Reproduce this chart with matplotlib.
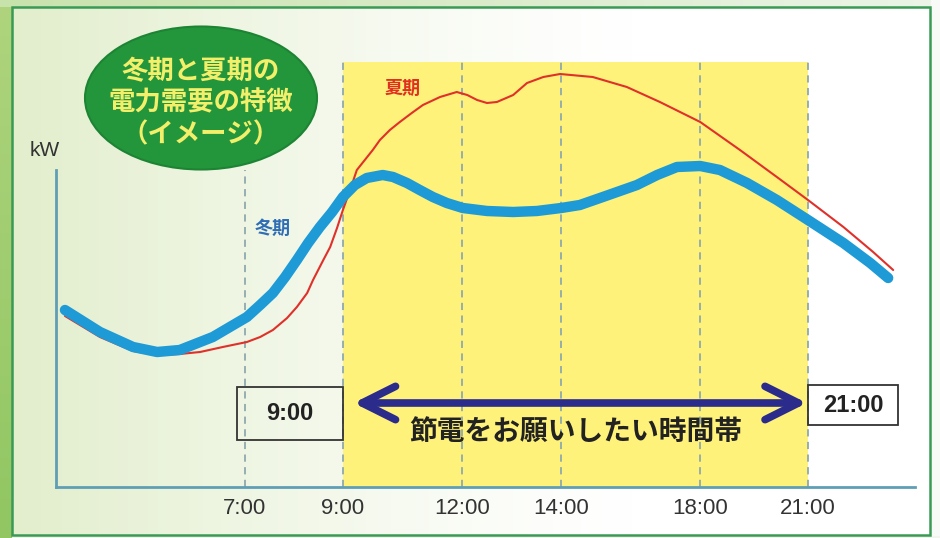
import numpy as np
import matplotlib.pyplot as plt
from matplotlib.patches import Ellipse, Rectangle

plt.rcParams['font.family'] = ['Noto Sans CJK JP', 'DejaVu Sans']

W, H = 940, 538

# time axis of the drawing is not to scale: hours and where they sit along the axis
scale_hours = [3, 7, 9, 12, 14, 18, 21, 24]
scale_frac = [0, 0.220, 0.334, 0.473, 0.588, 0.750, 0.875, 1.0]
tick_hours = [7, 9, 12, 14, 18, 21]
tick_labels = ["7:00", "9:00", "12:00", "14:00", "18:00", "21:00"]

# winter (冬期) demand, arbitrary kW units
winter_h = [3.19, 3.93, 4.63, 5.14, 5.62, 6.32, 6.68, 7.04, 7.31, 7.57, 7.82, 8.06, 8.29,
            8.53, 8.78, 9.0, 9.30, 9.60, 10.0, 10.26, 10.61, 10.93, 11.26, 11.61, 12.01,
            12.50, 13.03, 13.51, 14.0, 14.54, 15.20, 16.18, 16.76, 17.33, 18.0, 18.55,
            19.31, 20.14, 21.01, 22.0, 22.75, 23.25]
winter_kw = [177, 155, 140, 135, 137, 150, 160, 170, 182, 194, 210, 227, 244,
             260, 275, 290, 302, 309, 312, 310, 304, 297, 290, 284, 279,
             276, 275, 276, 279, 282, 290, 302, 312, 320, 321, 317,
             304, 287, 267, 244, 224, 209]

# summer (夏期) demand
summer_h = [3.19, 3.93, 4.63, 5.14, 5.62, 6.05, 6.53, 7.04, 7.31, 7.57, 7.86, 8.06, 8.27,
            8.39, 8.60, 8.74, 8.88, 9.0, 9.18, 9.35, 9.75, 9.93, 10.18, 10.43, 10.73,
            11.01, 11.44, 11.86, 12.10, 12.30, 12.50, 12.70, 13.03, 13.31, 13.64, 13.98,
            14.91, 15.89, 16.84, 18.0, 19.11, 20.14, 21.01, 22.0, 22.83, 23.39]
summer_kw = [171, 150, 136, 132, 133, 135, 140, 145, 150, 157, 169, 180, 194,
             207, 227, 240, 259, 277, 297, 317, 337, 347, 357, 365, 374,
             382, 390, 395, 392, 387, 384, 385, 392, 404, 410, 413,
             410, 400, 385, 365, 337, 310, 287, 260, 235, 217]

save_start, save_end = 9, 21

fig = plt.figure(figsize=(W / 100, H / 100), dpi=100)

# background: green frame and pale panel
bg = fig.add_axes([0, 0, 1, 1])
img = np.ones((H, W, 3))
t = np.clip(1 - (np.arange(W) - 12) / 620, 0, 1) ** 1.3
tint = np.array([226, 238, 204]) / 255
img[:] = 1 - t[None, :, None] * (1 - tint)[None, None, :]
rows = np.linspace(0, 1, H)[:, None]
img[:, :12] = ((1 - rows) * np.array([175, 212, 125]) + rows * np.array([145, 198, 98]))[:, None, :] / 255
cols = np.clip(np.arange(W) / W, 0, 1)[:, None]
img[:7] = ((1 - cols) * np.array([200, 226, 172]) + cols * np.array([236, 245, 232]))[None, :, :] / 255
img[:, 931:] = np.array([248, 250, 248]) / 255
img[536:, 12:] = np.array([240, 246, 236]) / 255
bg.imshow(img, extent=(0, W, H, 0), aspect='auto')
bg.set_xlim(0, W)
bg.set_ylim(H, 0)
bg.axis('off')
bg.add_patch(Rectangle((12, 7), 918, 528, fill=False, ec='#3a9a55', lw=1.8))

# title bubble
bg.add_patch(Ellipse((201, 98), 232, 143, fc='#23963c', ec='#1d8434', lw=1.5))
for txt, y in zip(["冬期と夏期の", "電力需要の特徴", "（イメージ）"], [72, 103, 135]):
    bg.text(201, y, txt, color='#f3ef6a', fontsize=19, fontweight='bold',
            ha='center', va='center')
bg.text(45, 150, "kW", family='Liberation Sans', fontsize=15, color='#333333',
        ha='center', va='center')

# chart
ax = fig.add_axes([56 / W, (H - 487) / H, 859 / W, (487 - 40) / H])
ax.patch.set_alpha(0)
ax.set_xscale('function', functions=(lambda h: np.interp(h, scale_hours, scale_frac),
                                     lambda f: np.interp(f, scale_frac, scale_hours)))
ax.set_xlim(3, 24)
ax.set_ylim(0, 447)

ax.axvspan(save_start, save_end, ymin=0, ymax=425 / 447, color='#fff27a', lw=0, zorder=0.5)
for h in tick_hours:
    top = 317 if h < save_start else 425
    ax.vlines(h, 0, top, color='#8fa9ae', lw=1.3, ls=(0, (4, 3)), zorder=1)

ax.plot(summer_h, summer_kw, color='#e0302a', lw=1.5, zorder=2,
        solid_capstyle='round', solid_joinstyle='round')
ax.plot(winter_h, winter_kw, color='#1e9ad6', lw=7.5, zorder=3,
        solid_capstyle='round', solid_joinstyle='round')

ax.text(7.57, 259, "冬期", color='#2f6db5', fontsize=13, fontweight='bold',
        ha='center', va='center')
ax.text(10.5, 399, "夏期", color='#e03020', fontsize=13, fontweight='bold',
        ha='center', va='center')

ax.annotate('', xy=(20.98, 84), xytext=(9.27, 84),
            arrowprops=dict(arrowstyle='<->,head_length=1.2,head_width=0.6',
                            color='#2b2b8c', lw=5.5, mutation_scale=20,
                            shrinkA=0, shrinkB=0), zorder=4)
ax.text(14.43, 55, "節電をお願いしたい時間帯", fontsize=20, fontweight='bold',
        color='#222222', ha='center', va='center', zorder=4)

# start / end boxes
for (x0, x1, y0, y1), label in zip([(6.83, 9.0, 47, 100), (21.0, 23.53, 62, 102)],
                                    ["9:00", "21:00"]):
    ax.add_patch(Rectangle((x0, y0), x1 - x0, y1 - y0, fill=False, ec='#333333',
                           lw=1.3, zorder=4))
    xm = np.interp((np.interp(x0, scale_hours, scale_frac) + np.interp(x1, scale_hours, scale_frac)) / 2,
                   scale_frac, scale_hours)
    ax.text(xm, (y0 + y1) / 2, label, family='Liberation Sans', fontsize=17,
            fontweight='bold', color='#222222', ha='center', va='center', zorder=5)

for s in ['top', 'right']:
    ax.spines[s].set_visible(False)
for s in ['left', 'bottom']:
    ax.spines[s].set_color('#5f9fb5')
    ax.spines[s].set_linewidth(2)
ax.spines['left'].set_bounds(0, 317)
ax.set_yticks([])
ax.set_xticks(tick_hours, tick_labels)
ax.minorticks_off()
ax.tick_params(axis='x', length=0, pad=8, labelsize=16, labelcolor='#333333')
for lab in ax.get_xticklabels():
    lab.set_family('Liberation Sans')

fig.savefig('out.png', dpi=100)
